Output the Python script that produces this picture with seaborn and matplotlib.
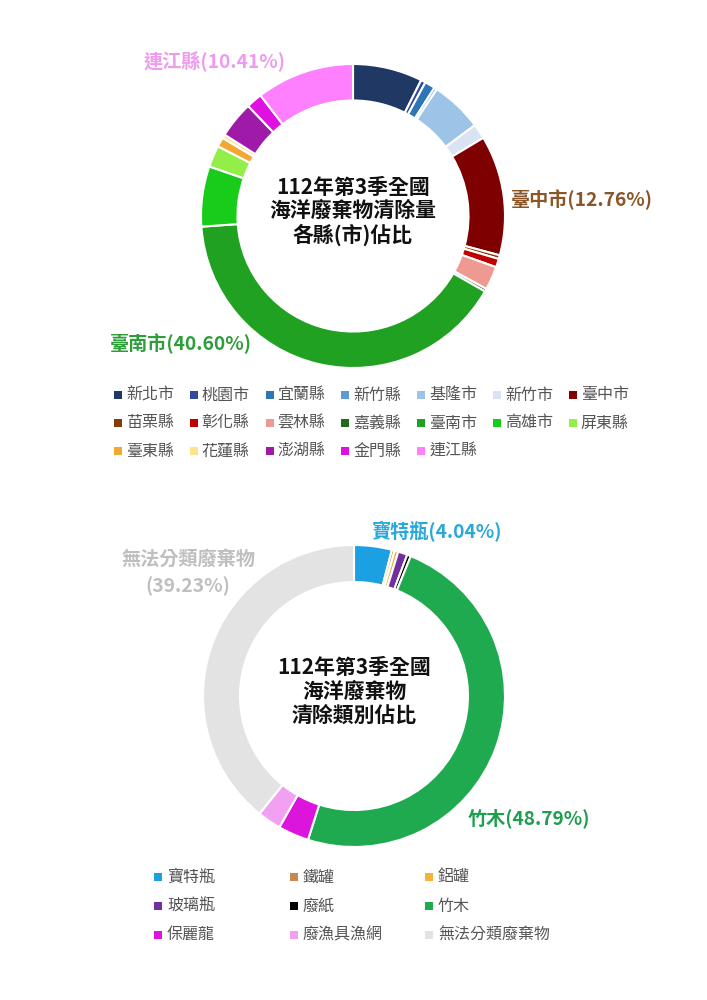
import matplotlib
matplotlib.use("Agg")
import matplotlib.pyplot as plt
from matplotlib.patches import Rectangle
import seaborn as sns

# ---------------- data ----------------
county_names = ["新北市", "桃園市", "宜蘭縣", "新竹縣", "基隆市", "新竹市", "臺中市",
                "苗栗縣", "彰化縣", "雲林縣", "嘉義縣", "臺南市", "高雄市", "屏東縣",
                "臺東縣", "花蓮縣", "澎湖縣", "金門縣", "連江縣"]
county_share = [7.4, 0.5, 1.1, 0.3, 5.5, 1.6, 12.76,
                0.4, 0.9, 2.5, 0.3, 40.60, 6.4, 2.3,
                1.0, 0.4, 3.9, 1.7, 10.41]
county_colors = ["#1F3864", "#2F4A9E", "#2E75B6", "#5B9BD5", "#9DC3E6", "#DAE3F3", "#7F0000",
                 "#843C0C", "#C00000", "#EE9A92", "#1E6B1E", "#21A121", "#19CC19", "#93EE4A",
                 "#F4A834", "#FFE38A", "#A01AAA", "#E010E0", "#FF80FF"]

type_names = ["寶特瓶", "鐵罐", "鋁罐", "玻璃瓶", "廢紙", "竹木", "保麗龍", "廢漁具漁網", "無法分類廢棄物"]
type_share = [4.04, 0.3, 0.4, 1.0, 0.4, 48.79, 3.3, 2.54, 39.23]
type_colors = ["#1BA1E2", "#C48A4E", "#F4B23C", "#7030A0", "#000000", "#1FAA50",
               "#DC14DC", "#F2A0F2", "#E3E3E3"]

top_title = "112年第3季全國\n海洋廢棄物清除量\n各縣(市)佔比"
bottom_title = "112年第3季全國\n海洋廢棄物\n清除類別佔比"

# ---------------- style ----------------
sns.set_theme(style="white")
plt.rcParams["font.family"] = ["Noto Sans CJK TC", "DejaVu Sans"]

W, H = 707, 1000
fig = plt.figure(figsize=(W / 100, H / 100), dpi=100)
fig.patch.set_facecolor("white")


def donut_axes(cx, cy, r):
    span = r * 1.05
    ax = fig.add_axes([(cx - span) / W, (H - cy - span) / H, 2 * span / W, 2 * span / H])
    return ax


def finish(ax):
    ax.set_xlim(-1.05, 1.05)
    ax.set_ylim(-1.05, 1.05)
    ax.set_aspect("equal")
    ax.axis("off")


def px(x, y):
    return x / W, 1 - y / H


LBL = 13.8

# ---------------- top donut ----------------
ax1 = donut_axes(353, 216, 152)
ax1.pie(county_share, colors=county_colors, startangle=90, counterclock=False,
        radius=1.0, wedgeprops=dict(width=0.24, edgecolor="white", linewidth=1.5))
finish(ax1)
ax1.text(0, 0.03, top_title, ha="center", va="center", fontsize=15,
         fontweight="bold", color="#111111", linespacing=1.15)

fig.text(*px(215, 62), f"{county_names[18]}({county_share[18]:.2f}%)", ha="center", va="center",
         fontsize=LBL, fontweight="bold", color="#EE9AEE")
fig.text(*px(582, 200), f"{county_names[6]}({county_share[6]:.2f}%)", ha="center", va="center",
         fontsize=LBL, fontweight="bold", color="#8A5628")
fig.text(*px(181, 344), f"{county_names[11]}({county_share[11]:.2f}%)", ha="center", va="center",
         fontsize=LBL, fontweight="bold", color="#2E9E3A")

# top legend
for i, (name, col) in enumerate(zip(county_names, county_colors)):
    r, c = divmod(i, 7)
    x = 118 + c * 75.8
    y = 395 + r * 28
    fig.patches.append(Rectangle(((x - 4) / W, 1 - (y + 4) / H), 8 / W, 8 / H,
                                 transform=fig.transFigure, facecolor=col, edgecolor="none"))
    fig.text(*px(x + 8, y), name, ha="left", va="center", fontsize=11.5, color="#555555")

# ---------------- bottom donut ----------------
ax2 = donut_axes(354, 696, 151)
ax2.pie(type_share, colors=type_colors, startangle=90, counterclock=False,
        radius=1.0, wedgeprops=dict(width=0.245, edgecolor="white", linewidth=1.5))
finish(ax2)
ax2.text(0, 0.03, bottom_title, ha="center", va="center", fontsize=15,
         fontweight="bold", color="#111111", linespacing=1.15)

fig.text(*px(436, 532), f"{type_names[0]}({type_share[0]:.2f}%)", ha="center", va="center",
         fontsize=LBL, fontweight="bold", color="#2AA8D8")
fig.text(*px(188, 559), type_names[8], ha="center", va="center",
         fontsize=LBL, fontweight="bold", color="#BFBFBF")
fig.text(*px(188, 586), f"({type_share[8]:.2f}%)", ha="center", va="center",
         fontsize=LBL, fontweight="bold", color="#BFBFBF")
fig.text(*px(529, 818), f"{type_names[5]}({type_share[5]:.2f}%)", ha="center", va="center",
         fontsize=LBL, fontweight="bold", color="#1E9E4E")

# bottom legend
for i, (name, col) in enumerate(zip(type_names, type_colors)):
    r, c = divmod(i, 3)
    x = 158 + c * 135.5
    y = 877 + r * 29
    fig.patches.append(Rectangle(((x - 4) / W, 1 - (y + 4) / H), 8 / W, 8 / H,
                                 transform=fig.transFigure, facecolor=col, edgecolor="none"))
    fig.text(*px(x + 9, y), name, ha="left", va="center", fontsize=11.5, color="#555555")

fig.savefig("out.png", dpi=100, facecolor="white")
